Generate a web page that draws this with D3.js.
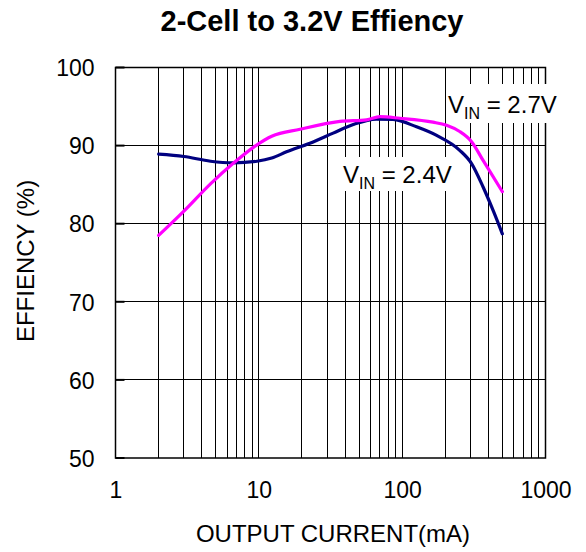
<!DOCTYPE html>
<html>
<head>
<meta charset="utf-8">
<script src="https://cdn.jsdelivr.net/npm/d3@7"></script>
<style>
  html, body { margin: 0; padding: 0; background: #fff; }
  svg { display: block; font-family: Arial, "Liberation Sans", Helvetica, sans-serif; }
</style>
</head>
<body>
<svg id="chart" width="586" height="552"></svg>
<script>
// ---- data ----
const titleText = "2-Cell to 3.2V Effiency";
const xTitle = "OUTPUT CURRENT(mA)";
const yTitle = "EFFIENCY (%)";
const xTickLabels = [1, 10, 100, 1000];
const yTickLabels = [50, 60, 70, 80, 90, 100];

const current24 = [2, 3, 4.6, 6.6, 9.7, 12.3, 15.6, 22.7, 33, 45.6, 66, 86.5, 126, 174, 252, 305, 367, 431, 500];
const eff24     = [88.9, 88.6, 88.0, 87.8, 88.0, 88.4, 89.2, 90.3, 91.6, 92.7, 93.4, 93.35, 92.4, 91.3, 89.4, 87.7, 84.7, 81.7, 78.7];

const current27 = [2, 3, 4.6, 6.6, 9.7, 12.3, 19.4, 36.8, 56.5, 70, 96.4, 164, 204, 252, 305, 367, 500];
const eff27     = [78.5, 81.6, 85.1, 87.7, 90.1, 91.2, 92.1, 93.1, 93.3, 93.7, 93.5, 93.0, 92.6, 91.8, 90.5, 88.1, 84.1];

const seriesNames = ["2.4V", "2.7V"];

// ---- drawing ----
(function () {
const svg = d3.select("#chart");
const pL = 115.5, pR = 545.5, pT = 67.5, pB = 458;

const x = d3.scaleLog().domain([1, 1000]).range([pL, pR]);
const y = d3.scaleLinear().domain([50, 100]).range([pB, pT]);

const xGrid = [];
for (let d = 1; d < 1000; d *= 10) for (let k = 2; k <= 9; k++) xGrid.push(d * k);
xGrid.push(10, 100);

const g = svg.append("g");
g.append("g").selectAll("line").data(xGrid).join("line")
  .attr("x1", d => x(d)).attr("x2", d => x(d))
  .attr("y1", pT).attr("y2", pB)
  .attr("stroke", "#000").attr("stroke-width", 1).attr("shape-rendering", "crispEdges");

g.append("g").selectAll("line").data(yTickLabels.slice(1, -1)).join("line")
  .attr("x1", pL).attr("x2", pR)
  .attr("y1", d => y(d)).attr("y2", d => y(d))
  .attr("stroke", "#000").attr("stroke-width", 1).attr("shape-rendering", "crispEdges");

g.append("g").selectAll("line").data(yTickLabels).join("line")
  .attr("x1", pL).attr("x2", pL + 9)
  .attr("y1", d => y(d)).attr("y2", d => y(d))
  .attr("stroke", "#000").attr("stroke-width", 2);

g.append("rect").attr("x", pL).attr("y", pT)
  .attr("width", pR - pL).attr("height", pB - pT)
  .attr("fill", "none").attr("stroke", "#000").attr("stroke-width", 1.5);

const xAxis = d3.axisBottom(x).tickValues(xTickLabels).tickFormat(d3.format("d")).tickSize(0).tickPadding(0);
const xa = svg.append("g").attr("transform", `translate(0,${pB})`).call(xAxis);
xa.select(".domain").remove();
xa.selectAll("text").attr("font-size", 23).attr("fill", "#000")
  .attr("font-family", "Arial, 'Liberation Sans', sans-serif")
  .attr("dy", 0).attr("y", 40);

const yAxis = d3.axisLeft(y).tickValues(yTickLabels).tickFormat(d3.format("d")).tickSize(0).tickPadding(0);
const ya = svg.append("g").attr("transform", `translate(${pL - 21},0)`).call(yAxis);
ya.select(".domain").remove();
ya.selectAll("text").attr("font-size", 23).attr("fill", "#000")
  .attr("font-family", "Arial, 'Liberation Sans', sans-serif")
  .attr("x", 0).attr("dy", "0.36em");

const line = d3.line().x(d => x(d[0])).y(d => y(d[1])).curve(d3.curveMonotoneX);
const s24 = current24.map((c, i) => [c, eff24[i]]);
const s27 = current27.map((c, i) => [c, eff27[i]]);

svg.append("path").datum(s24).attr("d", line)
  .attr("fill", "none").attr("stroke", "#000080").attr("stroke-width", 3.2)
  .attr("stroke-linejoin", "round").attr("stroke-linecap", "round");
svg.append("path").datum(s27).attr("d", line)
  .attr("fill", "none").attr("stroke", "#ff00ff").attr("stroke-width", 3.2)
  .attr("stroke-linejoin", "round").attr("stroke-linecap", "round");

function vinLabel(bx, by, bw, bh, tx, ty, val) {
  svg.append("rect").attr("x", bx).attr("y", by).attr("width", bw).attr("height", bh).attr("fill", "#fff");
  const t = svg.append("text").attr("x", tx).attr("y", ty)
    .attr("font-size", 24).attr("fill", "#000");
  t.append("tspan").text("V");
  t.append("tspan").attr("font-size", 16).attr("dy", 6).text("IN");
  t.append("tspan").attr("dy", -6).text(" = " + val);
}
vinLabel(447, 84, 110, 39, 448, 113, seriesNames[1]);
vinLabel(339, 157, 113, 34, 343, 183, seriesNames[0]);

svg.append("text").attr("x", 312).attr("y", 31).attr("text-anchor", "middle")
  .attr("font-size", 29).attr("font-weight", "bold").attr("fill", "#000").text(titleText);

svg.append("text").attr("x", 333).attr("y", 542).attr("text-anchor", "middle")
  .attr("font-size", 24).attr("fill", "#000").text(xTitle);
svg.append("text").attr("transform", "translate(34,261) rotate(-90)").attr("text-anchor", "middle")
  .attr("font-size", 24).attr("fill", "#000").text(yTitle);
})();
</script>
</body>
</html>
